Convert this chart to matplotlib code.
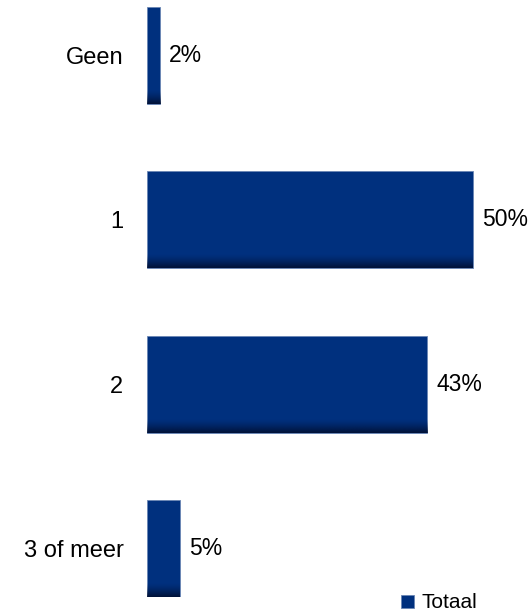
import numpy as np
import matplotlib
matplotlib.use("Agg")
import matplotlib.pyplot as plt
from matplotlib.colors import to_rgb

categories = ["Geen", "1", "2", "3 of meer"]
values = [2, 50, 43, 5]
series_name = "Totaal"

BAR_COLOR = "#00307e"
SHADE_COLOR = "#000c2a"

plt.rcParams["font.family"] = ["Liberation Sans", "DejaVu Sans"]

fig = plt.figure(figsize=(5.28, 6.13), dpi=100)
ax = fig.add_axes([147 / 528, 16 / 613, 378 / 528, 590 / 613])

y = np.arange(len(categories))
bars = ax.barh(y, values, height=0.59, color=BAR_COLOR,
               edgecolor="#6a86b4", linewidth=0.6, label=series_name)

# darker band along the bottom of each bar
shade = np.zeros((100, 1, 4))
shade[:, 0, :3] = to_rgb(SHADE_COLOR)
ramp = np.clip((np.arange(100) - 85) / 15, 0, 1)
shade[:, 0, 3] = ramp ** 1.4 * 0.9
for b in bars:
    x0, yb, w, h = b.get_x(), b.get_y(), b.get_width(), b.get_height()
    im = ax.imshow(shade, extent=(x0, x0 + w, yb + h, yb), aspect="auto",
                   interpolation="bilinear", zorder=3)
    im.set_clip_path(b)

for b, v in zip(bars, values):
    ax.text(b.get_width() + 1.4, b.get_y() + b.get_height() / 2, f"{v}%",
            va="center", ha="left", fontsize=16.5)

ax.set_yticks(y)
ax.set_yticklabels(categories, fontsize=17)
ax.tick_params(axis="y", length=0, pad=17)
ax.set_xticks([])
ax.set_xlim(0, 58)
ax.set_ylim(3 + 0.295, -0.295)
for s in ax.spines.values():
    s.set_visible(False)

fig.legend(handles=[bars], labels=[series_name], loc="center left",
           bbox_to_anchor=(401 / 528, 1 - 603 / 613), frameon=False,
           fontsize=15, handlelength=0.6, handleheight=0.6,
           handletextpad=0.4, borderpad=0, borderaxespad=0)

fig.savefig("out.png", dpi=100)
